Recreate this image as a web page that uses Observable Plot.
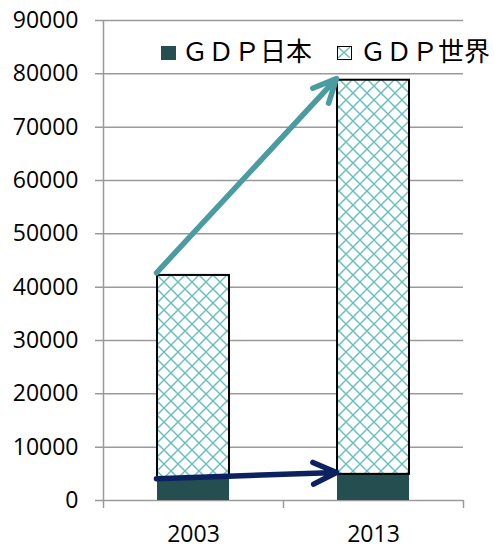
<!DOCTYPE html>
<html><head><meta charset="utf-8">
<script src="https://cdn.jsdelivr.net/npm/d3@7"></script>
<script src="https://cdn.jsdelivr.net/npm/@observablehq/plot@0.6"></script>
<style>
body{margin:0;background:#fff;overflow:hidden}
#wrap{position:relative;width:494px;height:544px}
.sw{position:absolute;top:46px;width:15px;height:14px;box-sizing:border-box}
.lt{position:absolute;top:37px;font-family:"Noto Sans CJK JP";font-size:26px;line-height:26px;color:#000;white-space:nowrap}
</style>
</head><body><div id="wrap"></div>
<script>
// data
const years = ["2003", "2013"];
const gdpJapan = [4300, 4900];
const gdpWorld = [37900, 73900];
const seriesNames = ["ＧＤＰ日本", "ＧＤＰ世界"];
const yTicks = [0, 10000, 20000, 30000, 40000, 50000, 60000, 70000, 80000, 90000];
// annotation arrows: from (year, value) to (year, value)
const arrowFromYear = ["2003", "2003"];
const arrowToYear = ["2013", "2013"];
const arrowFromValue = [42700, 4100];
const arrowToValue = [79100, 5250];
const arrowColors = ["#4b9ba2", "#0c2160"];

const rows = years.map((y, i) => ({year: y, japan: gdpJapan[i], world: gdpWorld[i]}));
const arrows = arrowFromYear.map((y, i) => ({x1: y, x2: arrowToYear[i], y1: arrowFromValue[i], y2: arrowToValue[i], c: arrowColors[i]}));

const font = "'Open Sans', sans-serif";
const chart = Plot.plot({
  width: 494, height: 544,
  marginLeft: 103, marginRight: 31, marginTop: 20, marginBottom: 44,
  style: {fontFamily: font, fontSize: "23px", color: "#000", background: "#fff"},
  x: {domain: years, paddingInner: 0.6, paddingOuter: 0.3, label: null},
  y: {domain: [0, 90000], label: null},
  marks: [
    Plot.ruleY(yTicks, {insetLeft: -8, stroke: "#9a9a9a", strokeWidth: 1.5}),
    Plot.ruleX([years[0]], {dx: -90, y1: 90000, y2: -1500, stroke: "#9a9a9a", strokeWidth: 1.5}),
    Plot.ruleX(years, {dx: 90, y1: 0, y2: -1500, stroke: "#9a9a9a", strokeWidth: 1.5}),
    Plot.barY(rows, {x: "year", y1: 0, y2: "japan", fill: "#254e50"}),
    Plot.barY(rows, {x: "year", y1: "japan", y2: d => d.japan + d.world, fill: "url(#hatch)", stroke: "#000", strokeWidth: 2}),
    Plot.arrow(arrows, {x1: "x1", x2: "x2", y1: "y1", y2: "y2", stroke: "c", strokeWidth: 5.5, headLength: 7, headAngle: 50, dx: -37}),
    Plot.axisY({ticks: yTicks, tickSize: 0, tickPadding: 25, tickFormat: d => String(d), fontSize: 23}),
    Plot.axisX({tickSize: 0, tickPadding: 25, fontSize: 23})
  ]
});
const ns = "http://www.w3.org/2000/svg";
const defs = document.createElementNS(ns, "defs");
defs.innerHTML = '<pattern id="hatch" patternUnits="userSpaceOnUse" width="14" height="14" x="157" y="275">' +
  '<rect width="14" height="14" fill="#fff"/>' +
  '<path d="M0,0L14,14M14,0L0,14" stroke="#64bec1" stroke-width="1.4" fill="none"/></pattern>';
chart.insertBefore(defs, chart.firstChild);
const wrap = document.getElementById("wrap");
wrap.appendChild(chart);

// legend
const legendSwatchLeft = [161, 337];
const legendTextLeft = [182, 360];
seriesNames.forEach((name, i) => {
  const sw = document.createElement("div");
  sw.className = "sw";
  sw.style.left = legendSwatchLeft[i] + "px";
  if (i === 0) sw.style.background = "#254e50";
  else {
    sw.style.border = "1.5px solid #000";
    sw.style.background = "#fff";
    sw.innerHTML = '<svg width="12" height="11" style="display:block"><path d="M0,0L12,11M12,0L0,11" stroke="#64bec1" stroke-width="1.4"/></svg>';
  }
  wrap.appendChild(sw);
  const t = document.createElement("div");
  t.className = "lt";
  t.style.left = legendTextLeft[i] + "px";
  t.textContent = name;
  wrap.appendChild(t);
});
</script>
</body></html>
